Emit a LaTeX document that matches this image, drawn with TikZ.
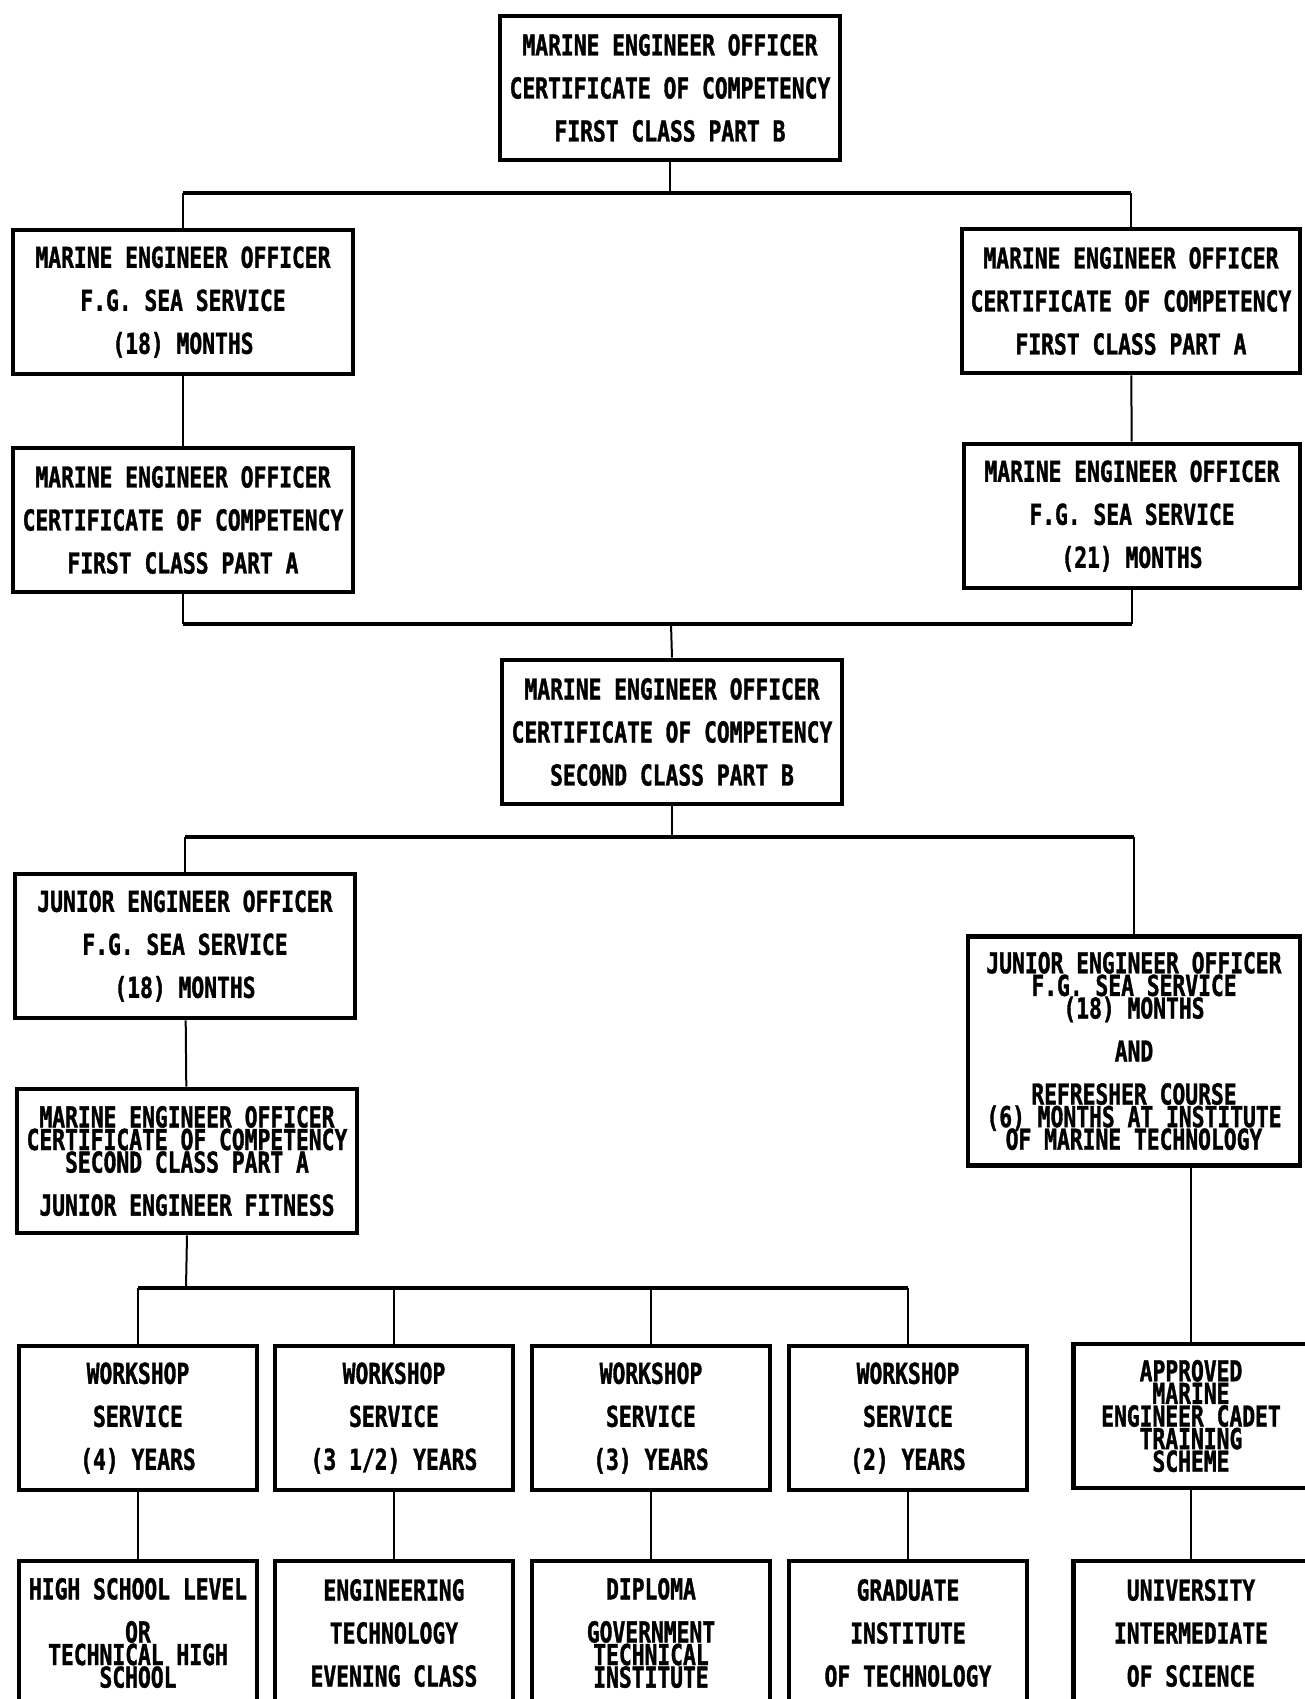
\documentclass[tikz,border=0pt]{standalone}
\usepackage{fontspec}
\newfontfamily\chartfont{DejaVu Sans Mono}[FakeStretch=0.74,BoldFeatures={FakeBold=1.2}]
\newcommand\squeeze{\\[-10.2pt]}
\lineskiplimit=-1000pt
\begin{document}
\begin{tikzpicture}[x={(0.5pt,0pt)},y={(0pt,-0.5pt)},
  box/.style={draw,line width=2.4pt,align=center,inner sep=0pt,
    font=\chartfont\bfseries\fontsize{14.4}{21.5}\selectfont},
  big/.style={box,minimum width=170pt,minimum height=72pt},
  small/.style={box,minimum width=119pt,minimum height=72pt},
  link/.style={line width=1pt},
  bus/.style={line width=1.6pt}]
\useasboundingbox (0,0) rectangle (1305,1699);
\clip (0,0) rectangle (1305,1699);
% first class
\path (670,88) node(topB) [big] {MARINE ENGINEER OFFICER\\CERTIFICATE OF COMPETENCY\\FIRST CLASS PART B};
\path (183,302) node(seaA18) [big] {MARINE ENGINEER OFFICER\\F.G. SEA SERVICE\\(18) MONTHS};
\path (183,520) node(firstAl) [big] {MARINE ENGINEER OFFICER\\CERTIFICATE OF COMPETENCY\\FIRST CLASS PART A};
\path (1131,301) node(firstAr) [big,minimum width=169pt] {MARINE ENGINEER OFFICER\\CERTIFICATE OF COMPETENCY\\FIRST CLASS PART A};
\path (1132,516) node(seaA21) [big,minimum width=168pt] {MARINE ENGINEER OFFICER\\F.G. SEA SERVICE\\(21) MONTHS};
\coordinate (bus1) at (670,193);
\coordinate (bus2) at (671,624);
% second class
\path (672,732) node(secondB) [big] {MARINE ENGINEER OFFICER\\CERTIFICATE OF COMPETENCY\\SECOND CLASS PART B};
\path (185,946) node(jeoSea) [big] {JUNIOR ENGINEER OFFICER\\F.G. SEA SERVICE\\(18) MONTHS};
\path (187,1161) node(secondA) [big] {MARINE ENGINEER OFFICER\squeeze CERTIFICATE OF COMPETENCY\squeeze SECOND CLASS PART A\\JUNIOR ENGINEER FITNESS};
\path (1134,1051) node(jeoRef) [box,minimum width=166pt,minimum height=114.5pt] {JUNIOR ENGINEER OFFICER\squeeze F.G. SEA SERVICE\squeeze (18) MONTHS\\AND\\REFRESHER COURSE\squeeze (6) MONTHS AT INSTITUTE\squeeze OF MARINE TECHNOLOGY};
\coordinate (bus3) at (672,837);
\coordinate (bus4) at (186,1288);
% workshop service
\path (138,1418) node(ws4) [small] {WORKSHOP\\SERVICE\\(4) YEARS};
\path (394,1418) node(ws35) [small] {WORKSHOP\\SERVICE\\(3 1/2) YEARS};
\path (651,1418) node(ws3) [small] {WORKSHOP\\SERVICE\\(3) YEARS};
\path (908,1418) node(ws2) [small] {WORKSHOP\\SERVICE\\(2) YEARS};
\path (1191,1416) node(cadet) [small,minimum width=117.5pt] {APPROVED\squeeze MARINE\squeeze ENGINEER CADET\squeeze TRAINING\squeeze SCHEME};
% entry level
\path (138,1633) node(school) [small] {HIGH SCHOOL LEVEL\\OR\squeeze TECHNICAL HIGH\squeeze SCHOOL};
\path (394,1633) node(evening) [small] {ENGINEERING\\TECHNOLOGY\\EVENING CLASS};
\path (651,1633) node(diploma) [small] {DIPLOMA\\GOVERNMENT\squeeze TECHNICAL\squeeze INSTITUTE};
\path (908,1633) node(graduate) [small] {GRADUATE\\INSTITUTE\\OF TECHNOLOGY};
\path (1191,1633) node(univ) [small,minimum width=117.5pt] {UNIVERSITY\\INTERMEDIATE\\OF SCIENCE};
% connectors
\draw[link] (topB.south) -- (bus1);
\draw[link] (seaA18.north) -- (seaA18.north |- bus1);
\draw[link] (firstAr.north) -- (firstAr.north |- bus1);
\draw[bus] (seaA18.north |- bus1) -- (firstAr.north |- bus1);
\draw[link] (seaA18) -- (firstAl);
\draw[link] (firstAr) -- (seaA21);
\draw[link] (firstAl.south) -- (firstAl.south |- bus2);
\draw[link] (seaA21.south) -- (seaA21.south |- bus2);
\draw[link] (secondB.north) -- (bus2);
\draw[bus] (firstAl.south |- bus2) -- (seaA21.south |- bus2);
\draw[link] (secondB.south) -- (bus3);
\draw[link] (jeoSea.north) -- (jeoSea.north |- bus3);
\draw[link] (jeoRef.north) -- (jeoRef.north |- bus3);
\draw[bus] (jeoSea.north |- bus3) -- (jeoRef.north |- bus3);
\draw[link] (jeoSea) -- (secondA);
\draw[link] (secondA.south) -- (bus4);
\foreach \w in {ws4,ws35,ws3,ws2}
  \draw[link] (\w.north) -- (\w.north |- bus4);
\draw[bus] (ws4.north |- bus4) -- (ws2.north |- bus4);
\draw[link] (cadet.north |- jeoRef.south) -- (cadet.north);
\draw[link] (ws4) -- (school);
\draw[link] (ws35) -- (evening);
\draw[link] (ws3) -- (diploma);
\draw[link] (ws2) -- (graduate);
\draw[link] (cadet) -- (univ);
\end{tikzpicture}
\end{document}
